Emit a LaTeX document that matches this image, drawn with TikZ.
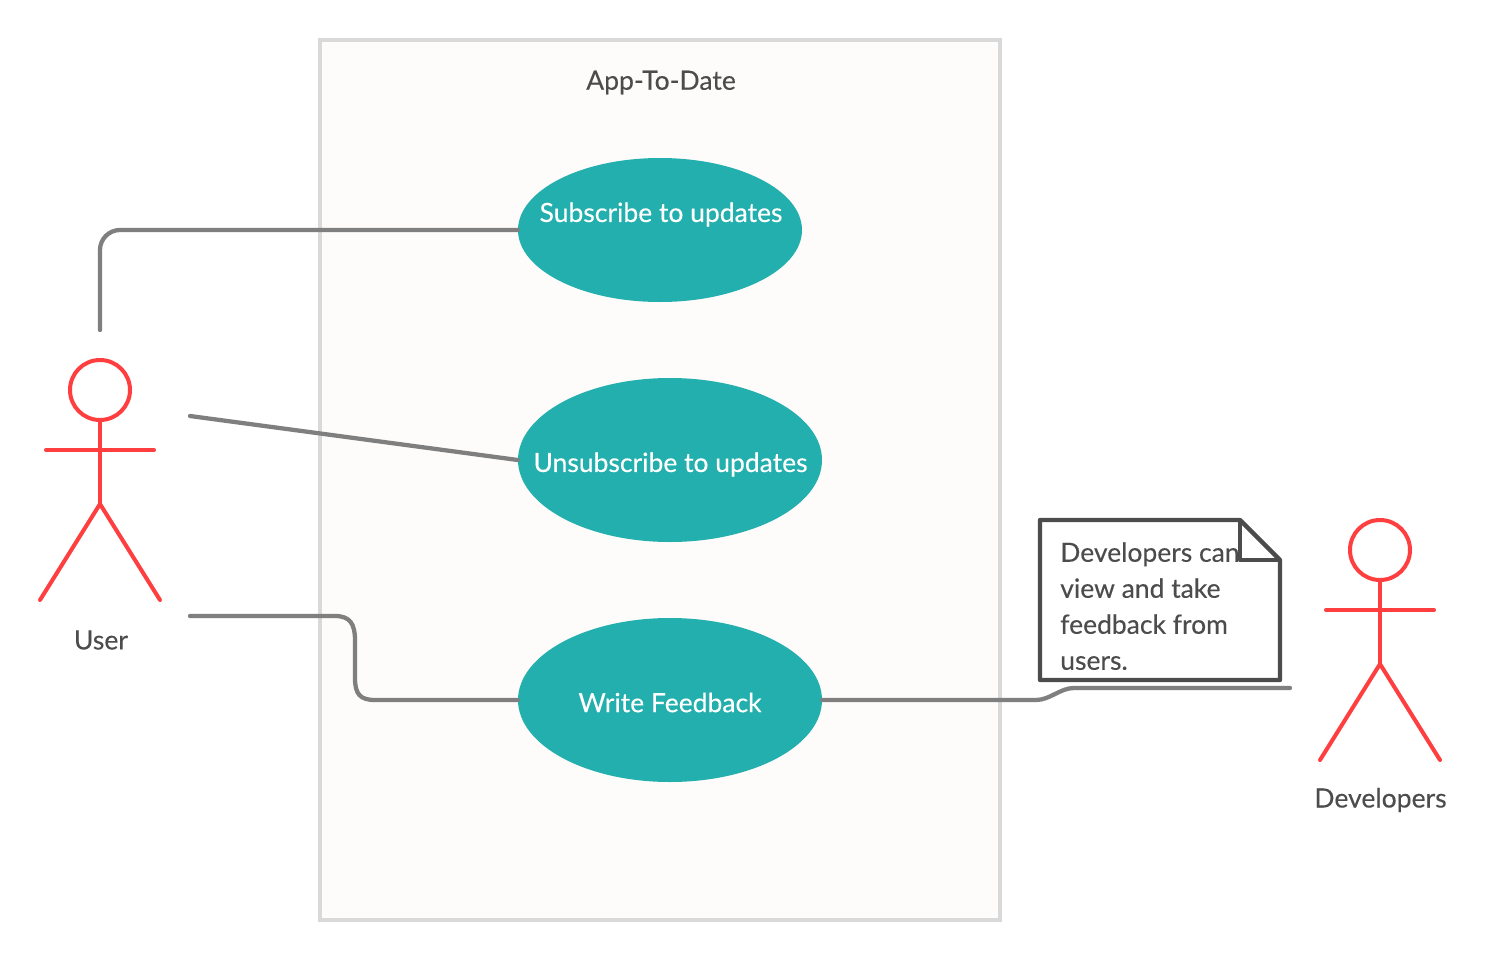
\documentclass[tikz,border=0pt]{standalone}
\usepackage{fontspec}
\setmainfont{Lato}[FakeBold=0.25]
\usetikzlibrary{shapes.geometric}
\definecolor{tealfill}{HTML}{22AFAD}
\definecolor{redline}{HTML}{FF3F3F}
\definecolor{conn}{HTML}{7F7F7F}
\definecolor{txt}{HTML}{4C4C4C}
\definecolor{boxline}{HTML}{D9D9D9}
\definecolor{boxfill}{HTML}{FDFCFB}
\tikzset{
  x=0.75pt,y=-0.75pt,
  lbl/.style={font=\fontsize{19.9}{27}\selectfont,text=txt,inner sep=0pt},
  uclabel/.style={font=\fontsize{19.85}{27}\selectfont,text=white,inner sep=0pt},
  usecase/.style={ellipse,fill=tealfill,inner sep=0pt},
  head/.style={circle,draw=redline,line width=3pt,minimum size=45pt,inner sep=0pt,outer sep=0pt},
  limb/.style={draw=redline,line width=3pt,line cap=round},
  connector/.style={draw=conn,line width=3.2pt,line cap=round},
  noteline/.style={draw=txt,line width=3.2pt,line join=round},
}
\begin{document}
\begin{tikzpicture}
\useasboundingbox (0,0) rectangle (1486,960);
\fill[white] (0,0) rectangle (1486,960);
% system boundary
\node[draw=boxline,fill=boxfill,line width=3pt,minimum width=510pt,minimum height=660pt,inner sep=0pt] (sys) at (660,480) {};
\node[lbl] (title) at (661,82.5) {App-To-Date};
% use cases
\node[usecase,minimum width=213pt,minimum height=108pt] (uc1) at (660,230) {};
\node[usecase,minimum width=228pt,minimum height=123pt] (uc2) at (670,460) {};
\node[usecase,minimum width=228pt,minimum height=123pt] (uc3) at (670,700) {};
\node[uclabel] (uc1t) at (661,214.5) {Subscribe to updates};
\node[uclabel] (uc2t) at (670.5,464.5) {Unsubscribe to updates};
\node[uclabel] (uc3t) at (670,702.5) {Write Feedback};
% user actor
\node[head] (uhead) at (100,390) {};
\coordinate (uhip) at (100,504);
\coordinate (uarmL) at (46,450);
\coordinate (uarmR) at (154,450);
\coordinate (ufootL) at (40,600);
\coordinate (ufootR) at (160,600);
\draw[limb] (uhead.south) -- (uhip);
\draw[limb] (uarmL) -- (uarmR);
\draw[limb,line join=round] (ufootL) -- (uhip) -- (ufootR);
\node[lbl] (ulabel) at (101,640) {User};
% developer actor
\node[head] (dhead) at (1380,550) {};
\coordinate (dhip) at (1380,664);
\coordinate (darmL) at (1326,610);
\coordinate (darmR) at (1434,610);
\coordinate (dfootL) at (1320,760);
\coordinate (dfootR) at (1440,760);
\draw[limb] (dhead.south) -- (dhip);
\draw[limb] (darmL) -- (darmR);
\draw[limb,line join=round] (dfootL) -- (dhip) -- (dfootR);
\node[lbl] (dlabel) at (1380.5,800) {Developers};
% connectors
\coordinate (a1) at (100,330);
\coordinate (a2) at (190,416);
\coordinate (a3) at (190,616);
\coordinate (d1) at (1290,688);
\draw[connector,rounded corners=15pt] (a1) -- (100,230) -- (uc1.west);
\draw[connector] (a2) -- (uc2.west);
\draw[connector] (a3) -- (335,616) .. controls (350,616) and (355,624) .. (355,640) -- (355,678) .. controls (355,694) and (360,700) .. (375,700) -- (uc3.west);
\draw[connector] (uc3.east) -- (1036,700) .. controls (1050,700) and (1060,688) .. (1074,688) -- (d1);
% note
\node[lbl,anchor=north west,align=left,font=\fontsize{19.85}{27}\selectfont] (note) at (1060,542) {Developers can\\view and take\\feedback from\\users.};
\draw[noteline] (1040,520) -- (1240,520) -- (1280,560) -- (1280,680) -- (1040,680) -- cycle;
\draw[noteline] (1240,520) -- (1240,560) -- (1280,560);
\end{tikzpicture}
\end{document}
